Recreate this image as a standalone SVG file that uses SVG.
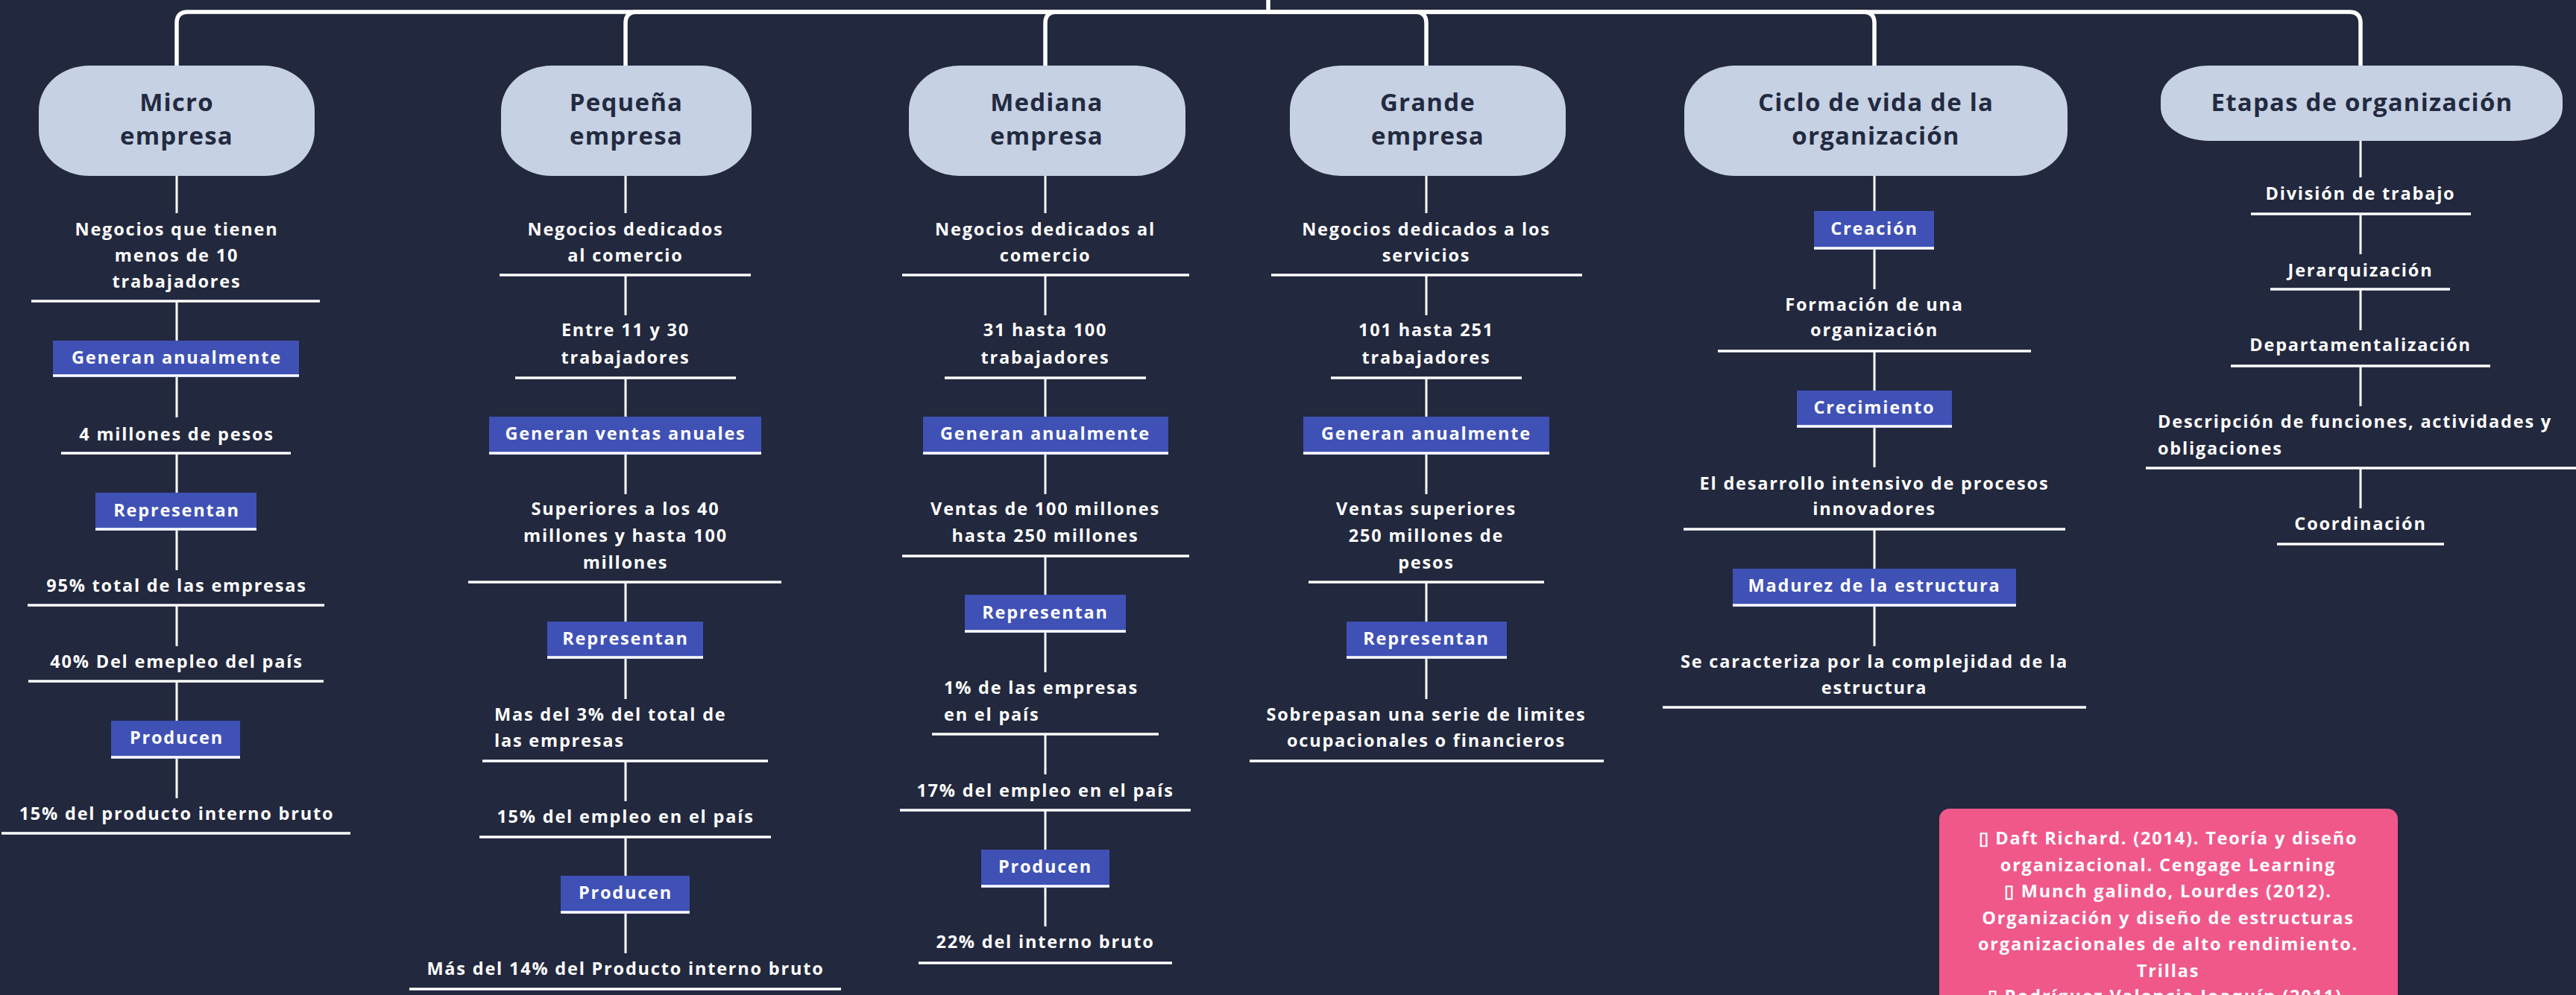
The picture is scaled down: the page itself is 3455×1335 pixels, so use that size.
<svg xmlns="http://www.w3.org/2000/svg" width="3455" height="1335" viewBox="0 0 3455 1335">
<style>
.bg{fill:#22283d}
.nb{fill:#c6d1e3}
.ht{font-family:"Open Sans","Liberation Sans",sans-serif;font-weight:700;font-size:33px;letter-spacing:1.2px;fill:#232a40;text-anchor:middle}
.t{font-family:"Open Sans","Liberation Sans",sans-serif;font-weight:700;font-size:23.5px;letter-spacing:1.8px;fill:#ffffff;text-anchor:middle}
.tl{text-anchor:start}
.lb{fill:#3f51b5}
.ul{stroke:#ffffff;stroke-width:3.5;fill:none}
.cn{stroke:#ffffff;stroke-width:3;fill:none}
.top{stroke:#ffffff;stroke-width:5.5;fill:none}
.pk{fill:#f0588a}
</style>
<rect class="bg" x="0" y="0" width="3455" height="1335"/>

<g id="connectors">
  <path class="top" d="M1701,0 V16"/>
  <path class="top" d="M1701,16 H252 Q237,16 237,31 V88"/>
  <path class="top" d="M1701,16 H854 Q839,16 839,31 V88"/>
  <path class="top" d="M1701,16 H1417 Q1402,16 1402,31 V88"/>
  <path class="top" d="M1701,16 H1898 Q1913,16 1913,31 V88"/>
  <path class="top" d="M1701,16 H2499 Q2514,16 2514,31 V88"/>
  <path class="top" d="M1701,16 H3151 Q3166,16 3166,31 V88"/>
  <path class="cn" d="M237,236 V286 M237,404 V457 M237,506 V560 M237,608 V661 M237,712 V765 M237,812 V867 M237,914 V967 M237,1018 V1071"/>
  <path class="cn" d="M839,236 V286 M839,369 V423 M839,507 V559 M839,610 V663 M839,781 V834 M839,884 V938 M839,1021 V1075 M839,1123 V1175 M839,1226 V1279"/>
  <path class="cn" d="M1402,236 V286 M1402,369 V423 M1402,507 V559 M1402,610 V663 M1402,746 V798 M1402,849 V902 M1402,985 V1039 M1402,1087 V1140 M1402,1191 V1243"/>
  <path class="cn" d="M1913,236 V286 M1913,369 V423 M1913,507 V559 M1913,610 V663 M1913,781 V834 M1913,884 V938"/>
  <path class="cn" d="M2514,236 V283 M2514,335 V388 M2514,471 V524 M2514,574 V627 M2514,710 V763 M2514,814 V867"/>
  <path class="cn" d="M3166,189 V238 M3166,287 V341 M3166,388 V443 M3166,491 V545 M3166,628 V682"/>
</g>

<g id="micro"><rect class="nb" x="52" y="88" width="370" height="148" rx="68" ry="60"/><text class="ht" x="237" y="149">Micro</text><text class="ht" x="237" y="194">empresa</text></g>
<g id="pequena"><rect class="nb" x="672" y="88" width="336" height="148" rx="68" ry="60"/><text class="ht" x="840" y="149">Pequeña</text><text class="ht" x="840" y="194">empresa</text></g>
<g id="mediana"><rect class="nb" x="1219" y="88" width="371" height="148" rx="68" ry="60"/><text class="ht" x="1404" y="149">Mediana</text><text class="ht" x="1404" y="194">empresa</text></g>
<g id="grande"><rect class="nb" x="1730" y="88" width="370" height="148" rx="68" ry="60"/><text class="ht" x="1915" y="149">Grande</text><text class="ht" x="1915" y="194">empresa</text></g>
<g id="ciclo"><rect class="nb" x="2259" y="88" width="514" height="148" rx="68" ry="60"/><text class="ht" x="2516" y="149">Ciclo de vida de la</text><text class="ht" x="2516" y="194">organización</text></g>
<g id="etapas"><rect class="nb" x="2898" y="88" width="539" height="101" rx="65" ry="45"/><text class="ht" x="3168" y="149">Etapas de organización</text></g>

<g id="micro-1"><text class="t" x="237" y="316">Negocios que tienen</text><text class="t" x="237" y="351">menos de 10</text><text class="t" x="237" y="386">trabajadores</text><line class="ul" x1="42" y1="404" x2="429" y2="404"/></g>
<g id="micro-2"><rect class="lb" x="71" y="457" width="330" height="49"/><line class="ul" x1="71" y1="504" x2="401" y2="504"/><text class="t" x="237" y="488">Generan anualmente</text></g>
<g id="micro-3"><text class="t" x="237" y="591">4 millones de pesos</text><line class="ul" x1="82" y1="608" x2="390" y2="608"/></g>
<g id="micro-4"><rect class="lb" x="128" y="661" width="216" height="51"/><line class="ul" x1="128" y1="710" x2="344" y2="710"/><text class="t" x="237" y="693">Representan</text></g>
<g id="micro-5"><text class="t" x="237" y="794">95% total de las empresas</text><line class="ul" x1="37" y1="812" x2="435" y2="812"/></g>
<g id="micro-6"><text class="t" x="237" y="896">40% Del emepleo del país</text><line class="ul" x1="38" y1="914" x2="434" y2="914"/></g>
<g id="micro-7"><rect class="lb" x="149" y="967" width="173" height="51"/><line class="ul" x1="149" y1="1016" x2="322" y2="1016"/><text class="t" x="237" y="998">Producen</text></g>
<g id="micro-8"><text class="t" x="237" y="1100">15% del producto interno bruto</text><line class="ul" x1="2" y1="1118" x2="470" y2="1118"/></g>

<g id="peq-1"><text class="t" x="839" y="316">Negocios dedicados</text><text class="t" x="839" y="351">al comercio</text><line class="ul" x1="670" y1="369" x2="1007" y2="369"/></g>
<g id="peq-2"><text class="t" x="839" y="451">Entre 11 y 30</text><text class="t" x="839" y="488">trabajadores</text><line class="ul" x1="691" y1="507" x2="987" y2="507"/></g>
<g id="peq-3"><rect class="lb" x="656" y="559" width="365" height="51"/><line class="ul" x1="656" y1="608" x2="1021" y2="608"/><text class="t" x="839" y="590">Generan ventas anuales</text></g>
<g id="peq-4"><text class="t" x="839" y="691">Superiores a los 40</text><text class="t" x="839" y="727">millones y hasta 100</text><text class="t" x="839" y="763">millones</text><line class="ul" x1="628" y1="781" x2="1048" y2="781"/></g>
<g id="peq-5"><rect class="lb" x="734" y="834" width="209" height="50"/><line class="ul" x1="734" y1="882" x2="943" y2="882"/><text class="t" x="839" y="865">Representan</text></g>
<g id="peq-6"><text class="t tl" x="663" y="967">Mas del 3% del total de</text><text class="t tl" x="663" y="1002">las empresas</text><line class="ul" x1="647" y1="1021" x2="1030" y2="1021"/></g>
<g id="peq-7"><text class="t" x="839" y="1104">15% del empleo en el país</text><line class="ul" x1="643" y1="1123" x2="1034" y2="1123"/></g>
<g id="peq-8"><rect class="lb" x="752" y="1175" width="173" height="51"/><line class="ul" x1="752" y1="1224" x2="925" y2="1224"/><text class="t" x="839" y="1206">Producen</text></g>
<g id="peq-9"><text class="t" x="839" y="1308">Más del 14% del Producto interno bruto</text><line class="ul" x1="549" y1="1327" x2="1128" y2="1327"/></g>

<g id="med-1"><text class="t" x="1402" y="316">Negocios dedicados al</text><text class="t" x="1402" y="351">comercio</text><line class="ul" x1="1210" y1="369" x2="1595" y2="369"/></g>
<g id="med-2"><text class="t" x="1402" y="451">31 hasta 100</text><text class="t" x="1402" y="488">trabajadores</text><line class="ul" x1="1267" y1="507" x2="1537" y2="507"/></g>
<g id="med-3"><rect class="lb" x="1238" y="559" width="329" height="51"/><line class="ul" x1="1238" y1="608" x2="1567" y2="608"/><text class="t" x="1402" y="590">Generan anualmente</text></g>
<g id="med-4"><text class="t" x="1402" y="691">Ventas de 100 millones</text><text class="t" x="1402" y="727">hasta 250 millones</text><line class="ul" x1="1210" y1="746" x2="1595" y2="746"/></g>
<g id="med-5"><rect class="lb" x="1294" y="798" width="216" height="51"/><line class="ul" x1="1294" y1="847" x2="1510" y2="847"/><text class="t" x="1402" y="830">Representan</text></g>
<g id="med-6"><text class="t tl" x="1266" y="931">1% de las empresas</text><text class="t tl" x="1266" y="967">en el país</text><line class="ul" x1="1250" y1="985" x2="1554" y2="985"/></g>
<g id="med-7"><text class="t" x="1402" y="1069">17% del empleo en el país</text><line class="ul" x1="1207" y1="1087" x2="1597" y2="1087"/></g>
<g id="med-8"><rect class="lb" x="1316" y="1140" width="172" height="51"/><line class="ul" x1="1316" y1="1189" x2="1488" y2="1189"/><text class="t" x="1402" y="1171">Producen</text></g>
<g id="med-9"><text class="t" x="1402" y="1272">22% del interno bruto</text><line class="ul" x1="1232" y1="1292" x2="1572" y2="1292"/></g>

<g id="gra-1"><text class="t" x="1913" y="316">Negocios dedicados a los</text><text class="t" x="1913" y="351">servicios</text><line class="ul" x1="1705" y1="369" x2="2122" y2="369"/></g>
<g id="gra-2"><text class="t" x="1913" y="451">101 hasta 251</text><text class="t" x="1913" y="488">trabajadores</text><line class="ul" x1="1785" y1="507" x2="2041" y2="507"/></g>
<g id="gra-3"><rect class="lb" x="1748" y="559" width="330" height="51"/><line class="ul" x1="1748" y1="608" x2="2078" y2="608"/><text class="t" x="1913" y="590">Generan anualmente</text></g>
<g id="gra-4"><text class="t" x="1913" y="691">Ventas superiores</text><text class="t" x="1913" y="727">250 millones de</text><text class="t" x="1913" y="763">pesos</text><line class="ul" x1="1755" y1="781" x2="2071" y2="781"/></g>
<g id="gra-5"><rect class="lb" x="1806" y="834" width="215" height="50"/><line class="ul" x1="1806" y1="882" x2="2021" y2="882"/><text class="t" x="1913" y="865">Representan</text></g>
<g id="gra-6"><text class="t" x="1913" y="967">Sobrepasan una serie de limites</text><text class="t" x="1913" y="1002">ocupacionales o financieros</text><line class="ul" x1="1676" y1="1021" x2="2151" y2="1021"/></g>

<g id="cic-1"><rect class="lb" x="2433" y="283" width="161" height="52"/><line class="ul" x1="2433" y1="333" x2="2594" y2="333"/><text class="t" x="2514" y="315">Creación</text></g>
<g id="cic-2"><text class="t" x="2514" y="417">Formación  de una</text><text class="t" x="2514" y="451">organización</text><line class="ul" x1="2304" y1="471" x2="2724" y2="471"/></g>
<g id="cic-3"><rect class="lb" x="2410" y="524" width="208" height="50"/><line class="ul" x1="2410" y1="572" x2="2618" y2="572"/><text class="t" x="2514" y="555">Crecimiento</text></g>
<g id="cic-4"><text class="t" x="2514" y="657">El desarrollo intensivo de procesos</text><text class="t" x="2514" y="691">innovadores</text><line class="ul" x1="2258" y1="710" x2="2770" y2="710"/></g>
<g id="cic-5"><rect class="lb" x="2324" y="763" width="380" height="51"/><line class="ul" x1="2324" y1="812" x2="2704" y2="812"/><text class="t" x="2514" y="794">Madurez de la estructura</text></g>
<g id="cic-6"><text class="t" x="2514" y="896">Se caracteriza por la complejidad de la</text><text class="t" x="2514" y="931">estructura</text><line class="ul" x1="2230" y1="949" x2="2798" y2="949"/></g>

<g id="eta-1"><text class="t" x="3166" y="268">División de trabajo</text><line class="ul" x1="3019" y1="287" x2="3314" y2="287"/></g>
<g id="eta-2"><text class="t" x="3166" y="371">Jerarquización</text><line class="ul" x1="3045" y1="388" x2="3286" y2="388"/></g>
<g id="eta-3"><text class="t" x="3166" y="471">Departamentalización</text><line class="ul" x1="2992" y1="491" x2="3340" y2="491"/></g>
<g id="eta-4"><text class="t tl" x="2894" y="574">Descripción de funciones, actividades y</text><text class="t tl" x="2894" y="610">obligaciones</text><line class="ul" x1="2878" y1="628" x2="3455" y2="628"/></g>
<g id="eta-5"><text class="t" x="3166" y="711">Coordinación</text><line class="ul" x1="3054" y1="730" x2="3278" y2="730"/></g>

<g id="referencias"><rect class="pk" x="2601" y="1085" width="615" height="280" rx="14" ry="14"/>
<text class="t" x="2908" y="1133">▯ Daft Richard. (2014). Teoría y diseño</text>
<text class="t" x="2908" y="1169">organizacional. Cengage Learning</text>
<text class="t" x="2908" y="1204">▯ Munch galindo, Lourdes (2012).</text>
<text class="t" x="2908" y="1240">Organización y diseño de estructuras</text>
<text class="t" x="2908" y="1275">organizacionales de alto rendimiento.</text>
<text class="t" x="2908" y="1311">Trillas</text>
<text class="t" x="2908" y="1345">▯ Rodríguez Valencia Joaquín (2011).</text>
</g>
</svg>
